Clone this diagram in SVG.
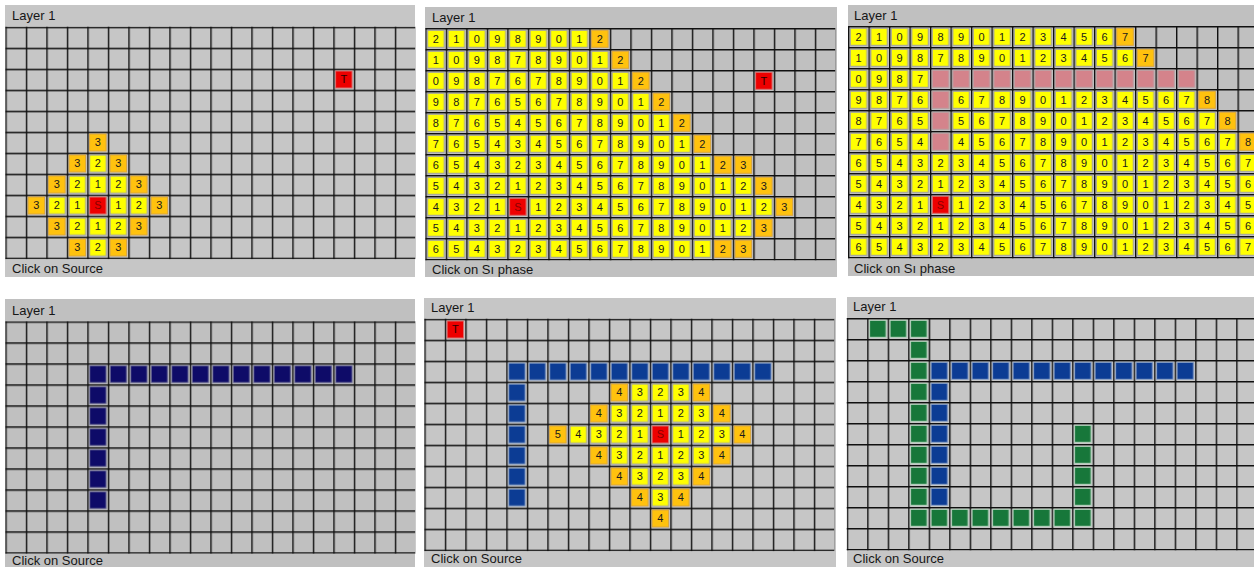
<svg xmlns="http://www.w3.org/2000/svg" xmlns:xlink="http://www.w3.org/1999/xlink" width="1254" height="567" viewBox="0 0 1254 567">
<style>
.bg{fill:#c0c0c0}
.bgj{fill:#c6c6c6}
.t{font-family:"Liberation Sans",Arial,sans-serif;font-size:13px;fill:#161616}
.d{font-family:"Liberation Sans",Arial,sans-serif;font-size:11px;text-anchor:middle;fill:#1a1a1a}
.o{fill:#ffc20e;stroke:#d9a640;stroke-width:1}
.r{fill:#ee0000;stroke:#d87070;stroke-width:1}
.sl{fill:#880000}
.tl{fill:#2a0000}
</style>
<defs>
<pattern id="pgrid" width="20.5" height="21" patternUnits="userSpaceOnUse"><path d="M0.7 0V21M0 0.7H20.5" stroke="#101010" stroke-width="1.4" fill="none"/></pattern>
<pattern id="py" width="20.5" height="21" patternUnits="userSpaceOnUse"><rect x="2.3" y="2.3" width="16.5" height="17" fill="#ffff00" stroke="#a0a0a0"/></pattern>
<pattern id="pn" width="20.5" height="21" patternUnits="userSpaceOnUse"><rect x="2.3" y="2.3" width="16.5" height="17" fill="#0e0b68" stroke="#7a7a9c"/></pattern>
<pattern id="pb" width="20.5" height="21" patternUnits="userSpaceOnUse"><rect x="2.3" y="2.3" width="16.5" height="17" fill="#0c3c94" stroke="#8ea4c8"/></pattern>
<pattern id="pg" width="20.5" height="21" patternUnits="userSpaceOnUse"><rect x="2.3" y="2.3" width="16.5" height="17" fill="#17773a" stroke="#b8d4c0"/></pattern>
<pattern id="pp" width="20.5" height="21" patternUnits="userSpaceOnUse"><rect x="2.3" y="2.3" width="16.5" height="17" fill="#d4838b" stroke="#b9a0a3"/></pattern>
<rect id="cell" x="2.3" y="2.3" width="16.5" height="17"/>
</defs>
<rect width="1254" height="567" fill="#ffffff"/>

<!-- Panel 1 -->
<g id="panel1">
<rect class="bgj" x="5" y="5" width="410" height="272"/>
<text class="t" x="12" y="20">Layer 1</text>
<text class="t" x="12" y="273">Click on Source</text>
<g transform="translate(5.3,26.7)">
<rect width="410" height="232.4" fill="url(#pgrid)"/>
<g fill="url(#py)">
<rect x="82" y="126" width="20.5" height="21"/>
<rect x="61.5" y="147" width="61.5" height="21"/>
<rect x="41" y="168" width="102.5" height="21"/>
<rect x="61.5" y="189" width="61.5" height="21"/>
<rect x="82" y="210" width="20.5" height="21"/>
</g>
<use href="#cell" class="o" x="82" y="105"/>
<use href="#cell" class="o" x="61.5" y="126"/>
<use href="#cell" class="o" x="102.5" y="126"/>
<use href="#cell" class="o" x="41" y="147"/>
<use href="#cell" class="o" x="123" y="147"/>
<use href="#cell" class="o" x="20.5" y="168"/>
<use href="#cell" class="o" x="143.5" y="168"/>
<use href="#cell" class="o" x="41" y="189"/>
<use href="#cell" class="o" x="123" y="189"/>
<use href="#cell" class="o" x="61.5" y="210"/>
<use href="#cell" class="o" x="102.5" y="210"/>
<use href="#cell" class="r" x="82" y="168"/>
<use href="#cell" class="r" x="328" y="42"/>
<text class="d" x="92.5" y="119.8">3</text>
<text class="d" x="72 92.5 113" y="140.8">323</text>
<text class="d" x="51.5 72 92.5 113 133.5" y="161.8">32123</text>
<text class="d" x="31 51.5 72" y="182.8">321</text>
<text class="d" x="113 133.5 154" y="182.8">123</text>
<text class="d" x="51.5 72 92.5 113 133.5" y="203.8">32123</text>
<text class="d" x="72 92.5 113" y="224.8">323</text>
<text class="d sl" x="92.5" y="182.8">S</text>
<text class="d tl" x="338.5" y="56.8">T</text>
</g>
</g>

<!-- Panel 2 -->
<g id="panel2">
<rect class="bg" x="425" y="7" width="412" height="270"/>
<text class="t" x="432" y="21.5">Layer 1</text>
<text class="t" x="432" y="273.5">Click on Sı phase</text>
<g transform="translate(425.3,28)">
<rect width="410" height="232.4" fill="url(#pgrid)"/>
<g fill="url(#py)">
<rect x="0" y="0" width="164" height="21"/>
<rect x="0" y="21" width="184.5" height="21"/>
<rect x="0" y="42" width="205" height="21"/>
<rect x="0" y="63" width="225.5" height="21"/>
<rect x="0" y="84" width="246" height="21"/>
<rect x="0" y="105" width="266.5" height="21"/>
<rect x="0" y="126" width="287" height="21"/>
<rect x="0" y="147" width="328" height="21"/>
<rect x="0" y="168" width="348.5" height="21"/>
<rect x="0" y="189" width="328" height="21"/>
<rect x="0" y="210" width="287" height="21"/>
</g>
<use href="#cell" class="o" x="164" y="0"/>
<use href="#cell" class="o" x="184.5" y="21"/>
<use href="#cell" class="o" x="205" y="42"/>
<use href="#cell" class="o" x="225.5" y="63"/>
<use href="#cell" class="o" x="246" y="84"/>
<use href="#cell" class="o" x="266.5" y="105"/>
<use href="#cell" class="o" x="287" y="126"/>
<use href="#cell" class="o" x="307.5" y="126"/>
<use href="#cell" class="o" x="328" y="147"/>
<use href="#cell" class="o" x="348.5" y="168"/>
<use href="#cell" class="o" x="328" y="189"/>
<use href="#cell" class="o" x="287" y="210"/>
<use href="#cell" class="o" x="307.5" y="210"/>
<use href="#cell" class="r" x="82" y="168"/>
<use href="#cell" class="r" x="328" y="42"/>
<text class="d" x="10.5 31 51.5 72 92.5 113 133.5 154 174.5 195 215.5 236 256.5 277 297.5 318 338.5 359 379.5 400" y="14.8">210989012</text>
<text class="d" x="10.5 31 51.5 72 92.5 113 133.5 154 174.5 195 215.5 236 256.5 277 297.5 318 338.5 359 379.5 400" y="35.8">1098789012</text>
<text class="d" x="10.5 31 51.5 72 92.5 113 133.5 154 174.5 195 215.5 236 256.5 277 297.5 318 338.5 359 379.5 400" y="56.8">09876789012</text>
<text class="d" x="10.5 31 51.5 72 92.5 113 133.5 154 174.5 195 215.5 236 256.5 277 297.5 318 338.5 359 379.5 400" y="77.8">987656789012</text>
<text class="d" x="10.5 31 51.5 72 92.5 113 133.5 154 174.5 195 215.5 236 256.5 277 297.5 318 338.5 359 379.5 400" y="98.8">8765456789012</text>
<text class="d" x="10.5 31 51.5 72 92.5 113 133.5 154 174.5 195 215.5 236 256.5 277 297.5 318 338.5 359 379.5 400" y="119.8">76543456789012</text>
<text class="d" x="10.5 31 51.5 72 92.5 113 133.5 154 174.5 195 215.5 236 256.5 277 297.5 318 338.5 359 379.5 400" y="140.8">6543234567890123</text>
<text class="d" x="10.5 31 51.5 72 92.5 113 133.5 154 174.5 195 215.5 236 256.5 277 297.5 318 338.5 359 379.5 400" y="161.8">54321234567890123</text>
<text class="d" x="10.5 31 51.5 72" y="182.8">4321</text>
<text class="d" x="113 133.5 154 174.5 195 215.5 236 256.5 277 297.5 318 338.5 359" y="182.8">1234567890123</text>
<text class="d" x="10.5 31 51.5 72 92.5 113 133.5 154 174.5 195 215.5 236 256.5 277 297.5 318 338.5 359 379.5 400" y="203.8">54321234567890123</text>
<text class="d" x="10.5 31 51.5 72 92.5 113 133.5 154 174.5 195 215.5 236 256.5 277 297.5 318 338.5 359 379.5 400" y="224.8">6543234567890123</text>
<text class="d sl" x="92.5" y="182.8">S</text>
<text class="d tl" x="338.5" y="56.8">T</text>
</g>
</g>

<!-- Panel 3 -->
<g id="panel3">
<rect class="bg" x="848" y="5" width="406" height="271"/>
<text class="t" x="854" y="19.5">Layer 1</text>
<text class="t" x="854" y="272.5">Click on Sı phase</text>
<g transform="translate(848,26)">
<rect width="410" height="232.4" fill="url(#pgrid)"/>
<g fill="url(#py)">
<rect x="0" y="0" width="266.5" height="21"/>
<rect x="0" y="21" width="287" height="21"/>
<rect x="0" y="42" width="82" height="21"/>
<rect x="0" y="63" width="348.5" height="21"/>
<rect x="0" y="84" width="369" height="21"/>
<rect x="0" y="105" width="389.5" height="21"/>
<rect x="0" y="126" width="410" height="105"/>
</g>
<g fill="url(#pp)">
<rect x="82" y="42" width="266.5" height="21"/>
<rect x="82" y="63" width="20.5" height="63"/>
</g>
<use href="#cell" class="o" x="266.5" y="0"/>
<use href="#cell" class="o" x="287" y="21"/>
<use href="#cell" class="o" x="348.5" y="63"/>
<use href="#cell" class="o" x="369" y="84"/>
<use href="#cell" class="o" x="389.5" y="105"/>
<use href="#cell" class="r" x="82" y="168"/>
<text class="d" x="10.5 31 51.5 72 92.5 113 133.5 154 174.5 195 215.5 236 256.5 277 297.5 318 338.5 359 379.5 400" y="14.8">21098901234567</text>
<text class="d" x="10.5 31 51.5 72 92.5 113 133.5 154 174.5 195 215.5 236 256.5 277 297.5 318 338.5 359 379.5 400" y="35.8">109878901234567</text>
<text class="d" x="10.5 31 51.5 72" y="56.8">0987</text>
<text class="d" x="10.5 31 51.5 72" y="77.8">9876</text>
<text class="d" x="113 133.5 154 174.5 195 215.5 236 256.5 277 297.5 318 338.5 359" y="77.8">6789012345678</text>
<text class="d" x="10.5 31 51.5 72" y="98.8">8765</text>
<text class="d" x="113 133.5 154 174.5 195 215.5 236 256.5 277 297.5 318 338.5 359 379.5" y="98.8">56789012345678</text>
<text class="d" x="10.5 31 51.5 72" y="119.8">7654</text>
<text class="d" x="113 133.5 154 174.5 195 215.5 236 256.5 277 297.5 318 338.5 359 379.5 400" y="119.8">456789012345678</text>
<text class="d" x="10.5 31 51.5 72 92.5 113 133.5 154 174.5 195 215.5 236 256.5 277 297.5 318 338.5 359 379.5 400" y="140.8">65432345678901234567</text>
<text class="d" x="10.5 31 51.5 72 92.5 113 133.5 154 174.5 195 215.5 236 256.5 277 297.5 318 338.5 359 379.5 400" y="161.8">54321234567890123456</text>
<text class="d" x="10.5 31 51.5 72" y="182.8">4321</text>
<text class="d" x="113 133.5 154 174.5 195 215.5 236 256.5 277 297.5 318 338.5 359 379.5 400" y="182.8">123456789012345</text>
<text class="d" x="10.5 31 51.5 72 92.5 113 133.5 154 174.5 195 215.5 236 256.5 277 297.5 318 338.5 359 379.5 400" y="203.8">54321234567890123456</text>
<text class="d" x="10.5 31 51.5 72 92.5 113 133.5 154 174.5 195 215.5 236 256.5 277 297.5 318 338.5 359 379.5 400" y="224.8">65432345678901234567</text>
<text class="d sl" x="92.5" y="182.8">S</text>
</g>
</g>

<!-- Panel 4 -->
<g id="panel4">
<rect class="bg" x="5" y="299" width="410" height="268"/>
<text class="t" x="12" y="314.5">Layer 1</text>
<text class="t" x="12" y="565">Click on Source</text>
<g transform="translate(5.3,321.3)">
<rect width="410" height="232.4" fill="url(#pgrid)"/>
<g fill="url(#pn)">
<rect x="82" y="42" width="266.5" height="21"/>
<rect x="82" y="63" width="20.5" height="126"/>
</g>
</g>
</g>

<!-- Panel 5 -->
<g id="panel5">
<rect class="bgj" x="424" y="298" width="412" height="269"/>
<text class="t" x="431" y="312">Layer 1</text>
<text class="t" x="431" y="563">Click on Source</text>
<g transform="translate(424.3,318.7)">
<rect width="410" height="232.4" fill="url(#pgrid)"/>
<g fill="url(#pb)">
<rect x="82" y="42" width="266.5" height="21"/>
<rect x="82" y="63" width="20.5" height="126"/>
</g>
<g fill="url(#py)">
<rect x="205" y="63" width="61.5" height="21"/>
<rect x="184.5" y="84" width="102.5" height="21"/>
<rect x="143.5" y="105" width="164" height="21"/>
<rect x="184.5" y="126" width="102.5" height="21"/>
<rect x="205" y="147" width="61.5" height="21"/>
<rect x="225.5" y="168" width="20.5" height="21"/>
</g>
<use href="#cell" class="o" x="184.5" y="63"/>
<use href="#cell" class="o" x="266.5" y="63"/>
<use href="#cell" class="o" x="164" y="84"/>
<use href="#cell" class="o" x="287" y="84"/>
<use href="#cell" class="o" x="123" y="105"/>
<use href="#cell" class="o" x="307.5" y="105"/>
<use href="#cell" class="o" x="164" y="126"/>
<use href="#cell" class="o" x="287" y="126"/>
<use href="#cell" class="o" x="184.5" y="147"/>
<use href="#cell" class="o" x="266.5" y="147"/>
<use href="#cell" class="o" x="205" y="168"/>
<use href="#cell" class="o" x="246" y="168"/>
<use href="#cell" class="o" x="225.5" y="189"/>
<use href="#cell" class="r" x="225.5" y="105"/>
<use href="#cell" class="r" x="20.5" y="0"/>
<text class="d" x="195 215.5 236 256.5 277" y="77.8">43234</text>
<text class="d" x="174.5 195 215.5 236 256.5 277 297.5" y="98.8">4321234</text>
<text class="d" x="133.5 154 174.5 195 215.5" y="119.8">54321</text>
<text class="d" x="256.5 277 297.5 318" y="119.8">1234</text>
<text class="d" x="174.5 195 215.5 236 256.5 277 297.5" y="140.8">4321234</text>
<text class="d" x="195 215.5 236 256.5 277" y="161.8">43234</text>
<text class="d" x="215.5 236 256.5" y="182.8">434</text>
<text class="d" x="236" y="203.8">4</text>
<text class="d sl" x="236" y="119.8">S</text>
<text class="d tl" x="31" y="14.8">T</text>
</g>
</g>

<!-- Panel 6 -->
<g id="panel6">
<rect class="bgj" x="847" y="297" width="407" height="270"/>
<text class="t" x="853" y="311">Layer 1</text>
<text class="t" x="853" y="563">Click on Source</text>
<g transform="translate(846.7,318)">
<rect width="410" height="232.4" fill="url(#pgrid)"/>
<g fill="url(#pg)">
<rect x="20.5" y="0" width="61.5" height="21"/>
<rect x="61.5" y="21" width="20.5" height="189"/>
<rect x="82" y="189" width="164" height="21"/>
<rect x="225.5" y="105" width="20.5" height="84"/>
</g>
<g fill="url(#pb)">
<rect x="82" y="42" width="266.5" height="21"/>
<rect x="82" y="63" width="20.5" height="126"/>
</g>
</g>
</g>
</svg>
